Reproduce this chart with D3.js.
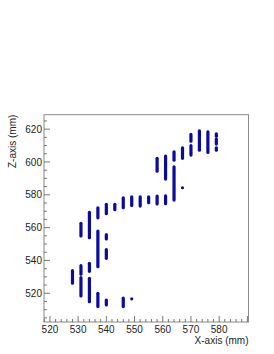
<!DOCTYPE html>
<html><head><meta charset="utf-8">
<script src="https://cdn.jsdelivr.net/npm/d3@7"></script>
<style>body{margin:0;background:#fff}svg{display:block}text{font-family:"Liberation Sans",Arial,sans-serif}</style>
</head><body>
<script>
// Hit strips: x position (mm), z from, z to (mm)
const stripX    = [528, 531, 531, 531, 534, 534, 534, 537, 537, 537, 540, 540, 540, 540, 543, 546, 546, 549, 549, 552, 555, 558, 558, 561, 561, 564, 564, 567, 567, 570, 570, 573, 576, 579, 579, 579];
const stripZlo  = [526.1, 554.9, 531.6, 518.4, 553.9, 533.4, 514.9, 566.0, 536.2, 511.9, 568.5, 553.1, 541.3, 512.9, 570.9, 572.1, 511.9, 573.5, 516.6, 573.1, 575.2, 594.4, 574.4, 589.6, 574.6, 601.1, 576.8, 602.2, 584.3, 612.7, 604.2, 607.2, 605.8, 615.6, 610.9, 607.2];
const stripZhi  = [533.8, 562.6, 536.8, 529.5, 569.3, 538.3, 529.1, 572.1, 557.9, 520.0, 574.2, 555.7, 546.6, 515.9, 574.2, 578.2, 517.0, 578.8, 516.6, 578.8, 578.8, 602.2, 579.2, 603.6, 579.4, 606.2, 597.1, 608.6, 584.3, 616.8, 609.9, 619.0, 618.4, 617.2, 613.9, 608.6];
const xTicks = [520, 530, 540, 550, 560, 570, 580];
const zTicks = [520, 540, 560, 580, 600, 620];
const xDomain = [517.9, 590.4];
const zDomain = [502.5, 628.8];

const W = 274, H = 354;
const L = 44, R = 248.5, T = 114.7, B = 322;
const svg = d3.select("body").append("svg").attr("width", W).attr("height", H);
const x = d3.scaleLinear().domain(xDomain).range([L, R]);
const y = d3.scaleLinear().domain(zDomain).range([B, T]);
const fc = "#8a8a8a";
const fs = 10;

// frame
svg.append("rect").attr("x", L).attr("y", T).attr("width", R - L).attr("height", B - T)
  .attr("fill", "none").attr("stroke", fc).attr("stroke-width", 1);

// x axis ticks (inward)
const xMinor = d3.range(518, 591, 2).filter(v => v >= xDomain[0] && v <= xDomain[1]);
svg.append("g").selectAll("line").data(xMinor).join("line")
  .attr("x1", d => x(d)).attr("x2", d => x(d))
  .attr("y1", B).attr("y2", d => B - (d % 10 === 0 ? 6 : 3))
  .attr("stroke", "#555").attr("stroke-width", 0.8);
svg.append("g").selectAll("text").data(xTicks).join("text")
  .attr("x", d => x(d)).attr("y", 333.3).attr("text-anchor", "middle")
  .attr("font-size", fs).attr("fill", "#222").text(d => d);

// y axis ticks
const zMinor = d3.range(505, 630, 5).filter(v => v >= zDomain[0] && v <= zDomain[1]);
svg.append("g").selectAll("line").data(zMinor).join("line")
  .attr("x1", L).attr("x2", d => L + (d % 20 === 0 ? 6 : 3))
  .attr("y1", d => y(d)).attr("y2", d => y(d))
  .attr("stroke", "#555").attr("stroke-width", 0.8);
svg.append("g").selectAll("text").data(zTicks).join("text")
  .attr("x", 42).attr("y", d => y(d) + 3.6).attr("text-anchor", "end")
  .attr("font-size", fs).attr("fill", "#222").text(d => d);

// titles
svg.append("text").attr("x", R).attr("y", 343.5).attr("text-anchor", "end")
  .attr("font-size", fs).attr("fill", "#222").text("X-axis (mm)");
svg.append("text").attr("transform", `translate(15.5,${T}) rotate(-90)`)
  .attr("text-anchor", "end").attr("font-size", fs).attr("fill", "#222").text("Z-axis (mm)");

// strips
const strips = stripX.map((v, i) => ({x: v, lo: stripZlo[i], hi: stripZhi[i]}));
svg.append("g").selectAll("line").data(strips).join("line")
  .attr("x1", d => x(d.x)).attr("x2", d => x(d.x))
  .attr("y1", d => y(d.lo)).attr("y2", d => y(d.hi))
  .attr("stroke", "#0a0a9c").attr("stroke-width", 3.2).attr("stroke-linecap", "round");
</script>
</body></html>
